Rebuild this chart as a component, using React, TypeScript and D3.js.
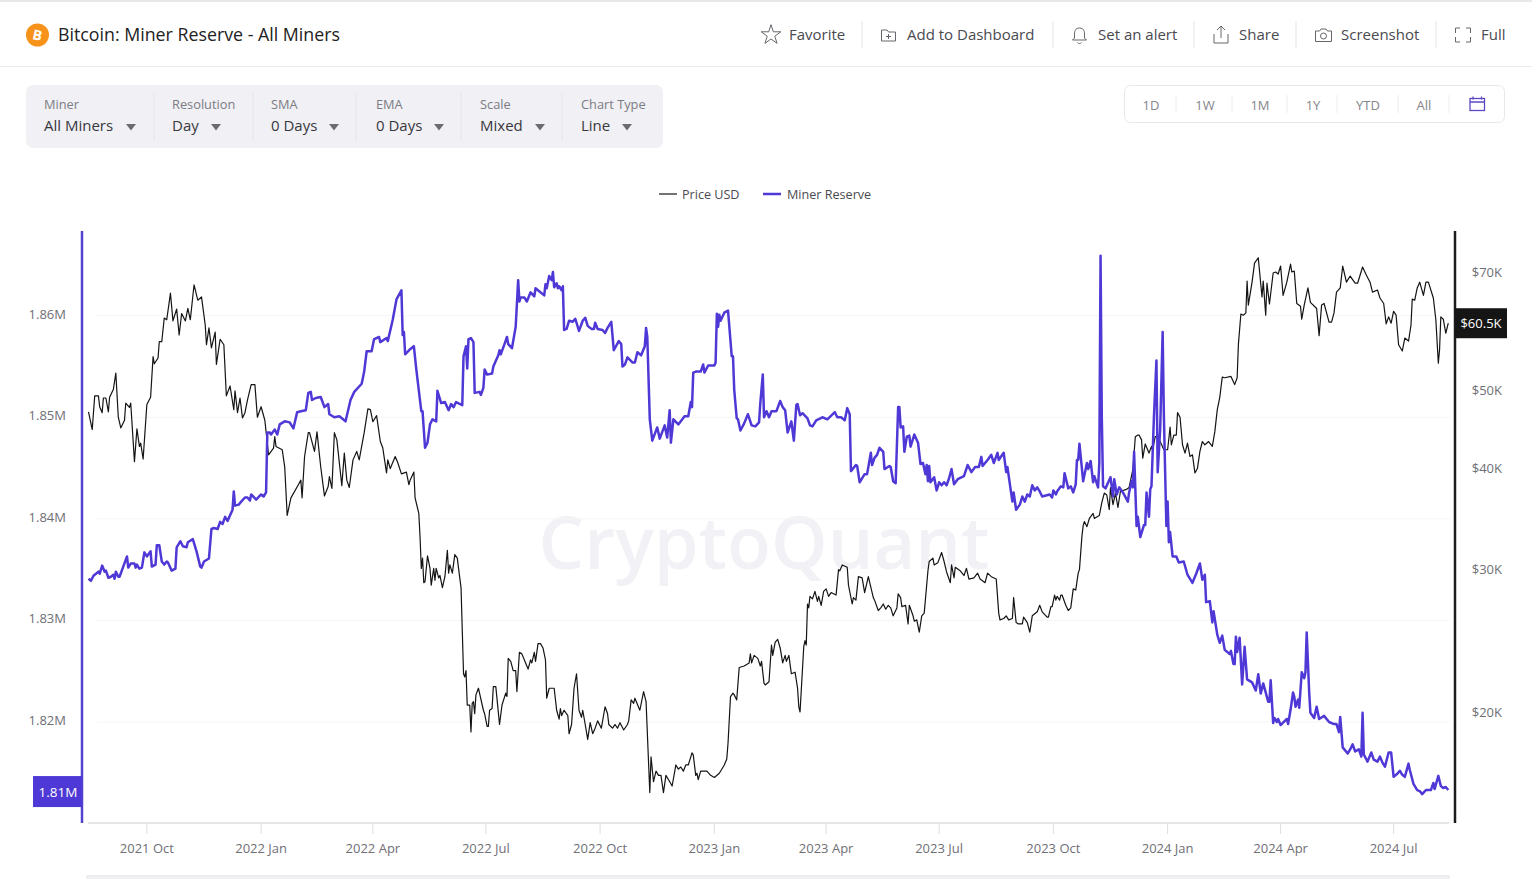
import * as d3 from 'd3';

// [days since 2021-08-15, price in $K]
const priceSeries: number[][] = [
  [0,47.0],[3,44.7],[5,49.2],[8,49.2],[9,47.7],[11,46.9],[12,48.9],[14,48.9],[16,47.0],[17,49.0],[20,50.1],[22,52.5],
  [24,46.3],[26,44.9],[29,45.9],[30,48.2],[33,47.6],[34,48.2],[37,40.8],[39,44.8],[41,42.6],[42,43.0],[44,41.1],[47,48.0],
  [50,49.0],[52,55.0],[53,53.9],[56,54.8],[57,57.4],[59,57.4],[61,61.4],[63,61.1],[66,65.9],[68,60.9],[71,63.0],[73,58.5],
  [75,62.2],[78,60.9],[80,63.1],[82,61.1],[85,67.5],[88,64.6],[91,65.2],[94,60.2],[95,56.9],[97,59.7],[99,56.4],[102,59.0],
  [103,53.8],[106,57.8],[109,56.9],[111,49.2],[114,50.6],[117,47.3],[118,49.9],[120,46.9],[122,48.9],[124,46.2],[126,46.9],
  [128,48.6],[131,50.8],[134,50.8],[136,46.3],[139,47.7],[142,45.9],[145,41.6],[149,42.4],[150,43.8],[151,42.6],[156,42.2],
  [158,40.2],[160,35.0],[163,36.8],[169,38.2],[171,38.7],[172,36.8],[174,41.4],[177,44.3],[178,44.3],[182,42.0],[184,44.4],
  [187,40.2],[190,37.0],[193,38.0],[194,39.1],[196,37.8],[198,44.3],[200,43.4],[204,38.1],[206,41.8],[208,38.7],[210,37.9],
  [213,41.0],[216,42.0],[218,41.0],[222,44.3],[225,47.4],[227,47.3],[229,45.7],[232,46.5],[235,43.2],[237,42.4],[240,39.5],
  [241,41.0],[243,40.0],[247,41.4],[249,40.7],[252,39.4],[256,39.6],[258,38.2],[259,38.7],[262,39.6],[263,36.8],[266,35.2],
  [267,32.9],[268,30.1],[269,31.0],[270,28.9],[271,29.0],[273,31.2],[275,30.1],[276,28.7],[278,30.1],[279,29.1],[280,30.1],
  [282,29.3],[283,29.5],[285,28.5],[287,29.4],[289,31.7],[290,29.7],[291,30.4],[293,29.7],[295,31.3],[297,31.0],[298,30.1],
  [300,28.5],[302,22.3],[303,22.1],[304,22.5],[305,20.4],[307,20.4],[308,18.9],[309,20.5],[310,20.6],[311,19.9],[312,21.0],
  [314,21.4],[318,20.1],[319,19.9],[321,19.2],[322,19.2],[323,20.1],[325,20.2],[326,21.5],[328,21.5],[331,19.3],[333,20.4],
  [336,21.1],[337,20.9],[338,23.3],[340,23.1],[342,22.5],[344,22.5],[345,21.2],[347,23.7],[349,23.6],[352,23.0],[354,22.6],
  [356,23.2],[357,23.0],[359,23.7],[360,23.1],[362,24.3],[364,24.3],[366,24.0],[368,23.2],[369,20.8],[371,21.4],[375,21.4],
  [377,20.1],[379,19.6],[380,20.2],[381,19.8],[383,20.1],[386,19.8],[387,18.8],[389,19.3],[391,21.4],[393,22.3],[395,20.1],
  [397,19.7],[398,20.1],[400,19.3],[402,18.5],[404,19.4],[406,18.8],[408,19.1],[410,19.5],[413,19.1],[416,20.3],[418,19.9],
  [419,19.3],[422,19.1],[424,19.3],[426,19.1],[428,19.4],[431,19.0],[434,19.3],[435,19.5],[437,20.7],[439,20.5],[440,20.8],
  [444,20.1],[447,21.2],[449,20.6],[452,15.9],[453,17.6],[455,16.4],[457,16.9],[459,16.7],[461,16.7],[463,15.9],[465,16.7],
  [467,16.5],[470,16.2],[473,17.2],[475,17.0],[477,17.1],[479,16.9],[481,17.2],[483,17.2],[486,17.8],[487,17.7],[489,16.7],
  [490,16.8],[491,16.5],[493,16.9],[498,16.9],[501,16.7],[504,16.6],[508,16.8],[512,17.2],[514,17.5],[515,18.3],[517,20.9],
  [519,21.1],[520,21.0],[522,20.7],[524,22.7],[528,22.8],[532,23.0],[533,23.6],[534,23.0],[536,23.5],[539,23.3],[541,22.8],
  [542,23.1],[544,21.7],[545,21.6],[548,21.8],[550,24.2],[551,23.5],[553,24.4],[555,24.6],[557,24.0],[559,23.0],[561,23.5],
  [562,23.1],[564,23.5],[566,22.3],[569,22.4],[571,21.4],[572,20.3],[573,20.0],[576,24.1],[577,24.5],[578,24.2],[579,27.2],
  [580,26.9],[581,27.8],[583,27.6],[585,28.2],[587,27.4],[588,27.8],[590,27.1],[592,28.2],[594,28.4],[596,27.8],[598,28.1],
  [602,27.9],[604,30.0],[605,29.9],[607,30.4],[611,30.2],[612,28.7],[615,27.2],[616,27.7],[618,27.5],[620,29.4],[623,29.3],
  [625,28.1],[628,29.4],[632,27.7],[633,27.5],[636,26.7],[638,26.9],[640,27.2],[642,26.8],[644,27.1],[646,26.9],[648,26.3],
  [651,26.9],[652,28.0],[654,27.7],[655,27.0],[658,27.1],[660,25.7],[661,27.1],[664,26.3],[665,25.9],[667,26.0],[669,25.1],
  [671,26.3],[673,26.5],[676,29.9],[677,30.7],[680,31.0],[681,30.4],[684,30.6],[687,31.5],[689,30.7],[691,29.8],[694,28.9],
  [695,30.4],[697,29.3],[698,30.2],[702,29.9],[705,29.5],[707,30.1],[709,29.2],[713,29.3],[716,29.7],[718,29.2],[722,28.9],
  [724,29.7],[727,29.4],[731,29.2],[733,26.5],[734,26.0],[737,26.1],[739,26.3],[741,26.0],[744,26.1],[745,27.7],[747,25.8],
  [749,25.7],[752,25.7],[753,26.2],[756,25.8],[758,25.1],[760,26.3],[764,26.6],[766,27.1],[768,26.6],[772,26.2],[773,26.2],
  [775,27.0],[776,27.0],[778,27.9],[779,27.5],[780,27.8],[782,27.5],[783,27.9],[784,27.9],[787,27.1],[789,26.7],[791,26.9],
  [793,28.4],[795,28.3],[797,29.7],[798,30.0],[800,33.0],[801,34.0],[802,34.4],[804,33.9],[806,34.7],[809,35.2],[810,34.7],
  [814,35.0],[816,36.3],[818,37.3],[820,37.1],[822,35.6],[823,37.9],[825,36.1],[827,37.3],[829,35.8],[831,37.5],[836,37.7],
  [838,37.9],[841,39.9],[843,43.8],[845,44.0],[846,44.0],[848,43.4],[849,41.2],[851,42.9],[854,41.8],[856,42.6],[857,42.2],
  [859,43.8],[861,43.8],[863,43.2],[866,42.2],[869,42.2],[871,45.0],[872,42.8],[874,44.0],[876,44.0],[877,46.9],[879,46.3],
  [881,42.8],[883,41.8],[885,43.0],[887,41.4],[889,41.6],[891,39.5],[893,40.0],[895,42.0],[897,43.2],[899,42.8],[902,43.2],
  [905,42.6],[907,44.4],[909,47.3],[911,49.0],[913,51.9],[915,51.8],[920,52.0],[923,50.8],[925,51.8],[926,57.0],[928,62.1],
  [930,61.9],[932,62.3],[933,68.2],[934,63.7],[937,68.0],[939,71.8],[942,72.9],[945,65.2],[946,68.2],[948,61.9],[949,67.8],
  [951,63.9],[954,69.8],[956,70.0],[958,69.6],[960,71.2],[962,65.5],[965,68.0],[968,71.6],[969,70.0],[971,70.2],[973,64.0],
  [976,63.5],[977,61.2],[979,63.7],[982,66.9],[984,64.2],[989,63.1],[991,58.4],[993,63.7],[995,64.0],[999,60.7],[1001,60.7],
  [1003,62.3],[1005,66.1],[1008,66.9],[1010,71.2],[1013,68.0],[1016,69.2],[1020,67.8],[1022,67.8],[1026,71.0],[1029,69.4],
  [1032,68.0],[1034,66.1],[1038,66.5],[1040,65.0],[1043,64.0],[1045,60.4],[1047,61.6],[1049,60.5],[1051,62.6],[1053,61.9],
  [1055,56.9],[1058,55.9],[1060,58.0],[1063,57.5],[1065,60.2],[1066,64.8],[1068,64.6],[1070,66.9],[1072,68.0],[1075,65.5],
  [1077,68.0],[1079,68.0],[1083,65.0],[1085,61.1],[1087,54.0],[1088,56.1],[1089,61.6],[1091,61.2],[1093,58.8],[1095,60.5],
];

// [days since 2021-08-15, miner reserve in thousands of BTC]
const reserveSeries: number[][] = [
  [0,1834.1],[2,1833.9],[4,1834.4],[8,1834.8],[9,1834.6],[11,1835.4],[13,1834.8],[14,1834.9],[16,1834.2],[18,1834.3],[20,1834.5],
  [21,1834.1],[22,1834.8],[24,1834.3],[25,1834.3],[28,1835.3],[31,1836.3],[32,1835.2],[34,1835.6],[37,1835.6],[38,1835.2],
  [39,1835.5],[41,1835.1],[43,1835.2],[45,1836.7],[47,1836.3],[50,1836.8],[51,1835.3],[54,1835.5],[55,1837.4],[57,1837.4],
  [59,1835.8],[61,1835.5],[63,1835.8],[64,1835.7],[67,1834.9],[70,1835.1],[71,1837.2],[74,1837.8],[76,1837.3],[79,1837.2],
  [80,1837.7],[84,1838.0],[87,1836.8],[90,1835.3],[91,1835.2],[93,1835.8],[97,1836.1],[99,1839.0],[101,1839.1],[104,1839.0],
  [106,1839.7],[108,1839.5],[110,1840.2],[112,1839.8],[116,1840.9],[117,1842.7],[118,1841.3],[121,1841.4],[123,1841.7],
  [126,1842.1],[128,1842.1],[130,1841.8],[131,1842.4],[135,1841.9],[139,1842.4],[141,1842.2],[143,1842.6],[144,1848.5],
  [146,1848.5],[147,1848.3],[150,1848.8],[152,1848.3],[154,1849.3],[158,1849.6],[162,1849.5],[165,1848.9],[168,1850.5],
  [171,1850.6],[175,1850.7],[177,1852.4],[179,1852.5],[180,1851.7],[183,1851.9],[187,1852.0],[190,1851.0],[193,1851.3],
  [194,1850.3],[198,1850.0],[202,1850.1],[207,1849.6],[211,1851.7],[214,1852.5],[220,1853.3],[222,1854.5],[224,1856.5],
  [228,1856.5],[230,1857.7],[234,1857.9],[235,1857.4],[240,1857.8],[241,1857.5],[245,1859.6],[248,1861.6],[252,1862.5],
  [253,1858.1],[254,1858.4],[255,1856.2],[259,1856.7],[262,1857.0],[264,1854.7],[268,1850.6],[269,1850.6],[271,1847.0],
  [273,1847.5],[275,1849.3],[277,1849.8],[280,1849.6],[281,1852.6],[284,1851.4],[287,1851.5],[290,1850.7],[292,1851.3],
  [294,1851.0],[296,1851.5],[301,1851.2],[302,1856.0],[304,1857.0],[305,1854.8],[306,1857.7],[308,1857.8],[310,1857.4],
  [311,1852.4],[315,1852.5],[316,1852.2],[318,1852.9],[319,1854.7],[321,1854.2],[325,1854.3],[326,1855.0],[330,1856.1],
  [331,1856.6],[332,1856.2],[335,1857.2],[337,1857.9],[338,1857.2],[341,1856.8],[344,1858.9],[346,1863.5],[347,1861.4],
  [348,1861.8],[351,1861.8],[353,1861.4],[356,1862.3],[359,1861.9],[360,1862.7],[367,1862.0],[368,1863.1],[369,1862.7],
  [371,1863.9],[373,1863.5],[374,1864.3],[375,1862.8],[377,1863.2],[378,1862.7],[379,1862.9],[381,1862.5],[382,1862.9],
  [383,1858.6],[385,1858.7],[387,1859.5],[390,1859.4],[392,1859.7],[395,1858.5],[398,1859.5],[400,1859.8],[402,1859.0],
  [405,1858.7],[407,1858.7],[408,1859.3],[410,1858.7],[414,1858.6],[416,1858.3],[418,1858.8],[421,1859.4],[423,1856.6],
  [427,1857.5],[429,1857.2],[430,1855.0],[432,1855.2],[434,1855.9],[438,1855.4],[440,1855.4],[442,1856.4],[445,1856.1],
  [448,1857.0],[449,1858.8],[450,1857.9],[452,1849.8],[454,1847.7],[458,1849.0],[460,1847.9],[464,1849.2],[466,1848.0],
  [468,1850.7],[469,1847.5],[471,1849.8],[475,1849.3],[480,1850.1],[483,1850.1],[485,1851.5],[486,1851.0],[487,1854.4],
  [489,1854.5],[491,1854.5],[493,1854.5],[495,1855.2],[496,1854.4],[499,1855.1],[504,1855.1],[505,1855.4],[506,1860.2],
  [507,1858.9],[508,1860.1],[509,1859.5],[512,1860.3],[515,1860.5],[518,1856.0],[519,1856.0],[520,1852.7],[522,1849.9],
  [523,1849.8],[525,1848.7],[528,1849.4],[531,1850.3],[534,1849.2],[537,1849.1],[540,1849.5],[541,1851.4],[543,1854.2],
  [544,1850.0],[546,1850.6],[548,1850.0],[550,1850.6],[554,1850.6],[557,1851.6],[559,1851.0],[561,1850.7],[563,1848.5],
  [566,1849.6],[568,1847.7],[570,1851.2],[571,1851.3],[573,1850.2],[575,1850.4],[579,1849.9],[581,1849.2],[583,1849.1],
  [586,1849.7],[591,1850.0],[595,1849.8],[601,1850.5],[603,1850.0],[606,1850.0],[609,1849.7],[611,1850.9],[613,1850.3],
  [614,1844.7],[618,1845.3],[619,1845.2],[621,1843.6],[625,1844.4],[627,1844.4],[630,1846.5],[631,1845.3],[633,1846.0],
  [635,1846.3],[637,1847.0],[640,1846.6],[641,1844.9],[645,1845.2],[646,1845.1],[648,1843.7],[650,1843.5],[652,1851.0],
  [653,1851.0],[654,1849.0],[656,1849.1],[657,1846.6],[659,1848.1],[661,1848.2],[662,1847.1],[665,1848.3],[668,1847.5],
  [670,1845.4],[672,1845.5],[674,1844.4],[675,1845.3],[676,1843.7],[677,1845.2],[678,1843.6],[681,1844.1],[683,1842.8],
  [685,1843.6],[687,1843.3],[689,1843.6],[691,1843.3],[693,1844.0],[695,1844.9],[697,1843.4],[700,1843.9],[705,1844.2],
  [708,1845.3],[711,1844.6],[714,1845.1],[717,1845.1],[719,1846.1],[720,1845.2],[724,1845.8],[727,1846.3],[729,1845.5],
  [732,1846.5],[733,1845.8],[737,1846.5],[739,1844.6],[740,1845.1],[742,1843.4],[744,1841.7],[745,1842.6],[747,1840.9],
  [750,1841.4],[752,1842.2],[754,1841.7],[756,1842.4],[758,1842.2],[760,1843.3],[762,1842.8],[764,1843.1],[766,1842.7],
  [768,1842.2],[774,1842.4],[776,1842.1],[777,1842.8],[779,1842.4],[780,1842.7],[783,1843.2],[785,1843.1],[786,1844.5],
  [789,1843.0],[791,1843.2],[793,1842.6],[795,1843.4],[796,1845.8],[797,1845.8],[798,1847.4],[801,1843.7],[804,1845.5],
  [805,1844.9],[807,1845.7],[809,1843.6],[810,1844.2],[813,1843.1],[814,1845.5],[815,1865.9],[816,1850.0],[817,1843.2],
  [819,1843.0],[823,1844.1],[825,1842.2],[826,1843.9],[828,1842.4],[830,1843.1],[833,1842.6],[837,1841.7],[838,1842.6],
  [840,1843.7],[841,1843.1],[842,1846.6],[844,1839.3],[845,1840.2],[847,1838.2],[850,1839.4],[851,1839.4],[852,1842.6],
  [854,1840.2],[855,1842.9],[856,1843.2],[858,1850.1],[860,1855.6],[861,1844.6],[863,1848.8],[865,1858.4],[866,1850.1],
  [868,1839.3],[869,1841.7],[870,1837.7],[871,1838.7],[873,1836.3],[876,1836.3],[878,1835.7],[882,1835.8],[885,1834.5],
  [889,1833.7],[892,1834.6],[895,1835.6],[897,1834.0],[899,1834.5],[900,1831.8],[903,1831.9],[905,1829.8],[906,1830.9],
  [909,1828.6],[911,1827.8],[913,1828.5],[915,1827.1],[919,1826.7],[920,1827.0],[922,1825.7],[923,1825.7],[924,1828.4],
  [925,1826.9],[927,1828.3],[929,1823.7],[931,1827.4],[933,1824.2],[937,1823.9],[940,1823.1],[942,1824.7],[944,1822.8],
  [946,1823.8],[950,1822.0],[951,1822.0],[952,1824.1],[954,1819.9],[955,1820.4],[957,1820.0],[958,1820.3],[960,1819.7],
  [965,1820.3],[966,1819.8],[968,1821.2],[970,1822.9],[971,1822.5],[972,1821.5],[974,1822.2],[975,1821.4],[977,1824.9],
  [979,1824.3],[980,1824.9],[981,1828.8],[983,1822.9],[984,1820.9],[987,1820.4],[989,1821.5],[991,1820.3],[995,1820.6],
  [999,1820.0],[1003,1819.8],[1005,1819.8],[1007,1819.0],[1008,1820.5],[1010,1817.5],[1014,1816.9],[1016,1817.3],[1018,1817.8],
  [1020,1817.1],[1023,1817.3],[1025,1816.6],[1026,1820.9],[1027,1816.8],[1030,1816.1],[1033,1817.0],[1035,1816.3],[1038,1816.1],
  [1040,1816.6],[1042,1816.0],[1044,1815.6],[1047,1817.0],[1049,1817.0],[1051,1814.6],[1054,1814.9],[1056,1815.2],[1058,1814.8],
  [1060,1814.6],[1063,1815.9],[1064,1815.3],[1067,1813.9],[1070,1813.3],[1072,1813.2],[1074,1812.9],[1077,1813.3],[1081,1813.3],
  [1083,1814.0],[1084,1813.4],[1087,1814.7],[1089,1813.7],[1091,1813.5],[1093,1813.6],[1095,1813.3],
];

const reserveTicks = [1860, 1850, 1840, 1830, 1820];
const priceTicks = [70, 50, 40, 30, 20];
const lastPriceLabel = '$60.5K';
const lastReserveLabel = '1.81M';

const filters = [
  { label: 'Miner', value: 'All Miners', x: 44, arrow: 131 },
  { label: 'Resolution', value: 'Day', x: 172, arrow: 216 },
  { label: 'SMA', value: '0 Days', x: 271, arrow: 334 },
  { label: 'EMA', value: '0 Days', x: 376, arrow: 439 },
  { label: 'Scale', value: 'Mixed', x: 480, arrow: 540 },
  { label: 'Chart Type', value: 'Line', x: 581, arrow: 627 },
];
const filterSeparators = [154, 253, 356, 461, 562];

const actions = [
  { label: 'Favorite', x: 789 },
  { label: 'Add to Dashboard', x: 907 },
  { label: 'Set an alert', x: 1098 },
  { label: 'Share', x: 1239 },
  { label: 'Screenshot', x: 1341 },
  { label: 'Full', x: 1481 },
];
const actionSeparators = [862, 1053, 1194, 1296, 1436];

const ranges = [
  { label: '1D', x: 1151 },
  { label: '1W', x: 1205 },
  { label: '1M', x: 1260 },
  { label: '1Y', x: 1313 },
  { label: 'YTD', x: 1368 },
  { label: 'All', x: 1424 },
];
const rangeSeparators = [1176, 1232, 1287, 1337, 1398, 1449];

const FONT = '"Open Sans", "Noto Sans", sans-serif';
const PURPLE = '#4f39d6';
const GREY_TEXT = '#6f6f76';

const width = 1532;
const height = 879;
const plot = { left: 82, right: 1455, top: 231, bottom: 823 };

const startDate = new Date(2021, 7, 15);
const dayToDate = (d: number) => d3.timeDay.offset(startDate, d);

export default function App() {
  const xScale = d3.scaleTime().domain([startDate, dayToDate(1096)]).range([88.5, 1449.5]);
  const yReserve = d3.scaleLinear().domain([1820, 1860]).range([722, 315.7]);
  const yPrice = d3.scaleLog().domain([20, 70]).range([712, 272]);

  const priceLine = d3.line<number[]>()
    .x(d => xScale(dayToDate(d[0])))
    .y(d => yPrice(d[1]));
  const reserveLine = d3.line<number[]>()
    .x(d => xScale(dayToDate(d[0])))
    .y(d => yReserve(d[1]));

  const xTicks = d3.timeMonth.every(3)!.range(new Date(2021, 9, 1), new Date(2024, 7, 1));
  const formatTick = d3.timeFormat('%Y %b');
  const starPath = d3.symbol(d3.symbolStar, 120)() || '';

  const lastPrice = priceSeries[priceSeries.length - 1];
  const lastReserve = reserveSeries[reserveSeries.length - 1];

  return (
    <svg
      width={width}
      height={height}
      fontFamily={FONT}
      style={{ position: 'absolute', left: 0, top: 0, display: 'block', background: '#fff' }}
    >
      {/* Header */}
      <line x1={0} x2={width} y1={1} y2={1} stroke="#e8e8e8" strokeWidth={2} />
      <line x1={0} x2={width} y1={66.5} y2={66.5} stroke="#e9e9e9" />
      <circle cx={37.5} cy={35} r={11.5} fill="#f7931a" />
      <text x={37.5} y={40} textAnchor="middle" fontSize={14} fontWeight="bold" fill="#fff" transform="rotate(12, 37.5, 35)">B</text>
      <text x={58} y={40.5} fontSize={17.8} fill="#222">Bitcoin: Miner Reserve - All Miners</text>

      {actions.map(a => (
        <text key={a.label} x={a.x} y={39.5} fontSize={15} fill="#4a4a50">{a.label}</text>
      ))}
      {actionSeparators.map(x => (
        <line key={x} x1={x} x2={x} y1={21} y2={48} stroke="#e4e4e4" />
      ))}
      <g fill="none" stroke="#66666c" strokeWidth={1}>
        <path d={starPath} transform="translate(771,35)" />
        <path d="M881.5,30v11h14v-9h-7l-1.500,-2zM888.500,34v5M886,36.500h5" />
        <path d="M1079.500,28c-4,0 -5,3 -5,6v4l-2,2h14l-2,-2v-4c0,-3 -1,-6 -5,-6zM1077.500,42.500c1,1.500 3,1.500 4,0" />
        <path d="M1214,34v9h14v-9M1221,38v-12M1217,30l4,-4l4,4" />
        <path d="M1315.500,31h4l1.500,-2h5l1.500,2h4v10.500h-16z" />
        <circle cx={1323.500} cy={36} r={3} />
        <path d="M1455.500,33v-5h4.500M1466,28h4.500v5M1455.500,37v5h4.500M1466,42h4.500v-5" />
      </g>

      {/* Filter bar */}
      <rect x={26} y={85} width={637} height={63} rx={7} fill="#f0f0f5" />
      {filterSeparators.map(x => (
        <line key={x} x1={x} x2={x} y1={93} y2={140} stroke="#e4e4ea" />
      ))}
      {filters.map(f => (
        <g key={f.label}>
          <text x={f.x} y={109} fontSize={12.8} fill="#7c7c83">{f.label}</text>
          <text x={f.x} y={131} fontSize={15} fill="#38383d">{f.value}</text>
          <path d={`M${f.arrow - 5},124h10l-5,6.500z`} fill="#6b6b72" />
        </g>
      ))}

      {/* Range buttons */}
      <rect x={1124.500} y={85.500} width={380} height={37} rx={6} fill="#fff" stroke="#e8e8ec" />
      {rangeSeparators.map(x => (
        <line key={x} x1={x} x2={x} y1={95} y2={113} stroke="#ececf0" />
      ))}
      {ranges.map(r => (
        <text key={r.label} x={r.x} y={110} textAnchor="middle" fontSize={13} fill="#85858c">{r.label}</text>
      ))}
      <g fill="none" stroke="#5b49c4" strokeWidth={1.300}>
        <rect x={1470} y={98.500} width={14.500} height={12} />
        <path d="M1470,102h14.500M1473,96.500v3M1481.500,96.500v3" />
      </g>

      {/* Legend */}
      <line x1={659} x2={677} y1={194} y2={194} stroke="#444" strokeWidth={1.500} />
      <text x={682} y={199} fontSize={12.600} fill="#4a4a50">Price USD</text>
      <line x1={763} x2={781} y1={194} y2={194} stroke={PURPLE} strokeWidth={2.500} />
      <text x={787} y={199} fontSize={12.600} fill="#4a4a50">Miner Reserve</text>

      {/* Watermark */}
      <text x={764} y={569} textAnchor="middle" fontSize={72} fontWeight={600} fill="#f2f2f6">CryptoQuant</text>

      {/* Grid */}
      {reserveTicks.map(t => (
        <line key={t} x1={97} x2={1450} y1={yReserve(t)} y2={yReserve(t)} stroke="#f5f5f5" />
      ))}

      {/* X axis */}
      <line x1={88} x2={1449} y1={plot.bottom} y2={plot.bottom} stroke="#dedee2" strokeWidth={1.500} />
      {xTicks.map(t => (
        <g key={t.getTime()}>
          <line x1={xScale(t)} x2={xScale(t)} y1={plot.bottom} y2={plot.bottom + 11} stroke="#dedee2" />
          <text x={xScale(t)} y={853} textAnchor="middle" fontSize={13} fill={GREY_TEXT}>{formatTick(t)}</text>
        </g>
      ))}
      <rect x={87} y={875.500} width={1362} height={4} fill="#f0f0f2" stroke="#e8e8ea" />

      {/* Series */}
      <path d={priceLine(priceSeries) || ''} fill="none" stroke="#141414" strokeWidth={1.200} strokeLinejoin="round" />
      <path d={reserveLine(reserveSeries) || ''} fill="none" stroke={PURPLE} strokeWidth={2.500} strokeLinejoin="round" />

      {/* Left axis */}
      <line x1={plot.left} x2={plot.left} y1={plot.top} y2={plot.bottom} stroke="#5543cf" strokeWidth={2.500} />
      {reserveTicks.map(t => (
        <text key={t} x={66} y={yReserve(t) + 3} textAnchor="end" fontSize={13} fill={GREY_TEXT}>
          {`${(t / 1000).toFixed(2)}M`}
        </text>
      ))}
      <rect x={33} y={yReserve(lastReserve[1]) - 14} width={49} height={31} fill={PURPLE} />
      <text x={58} y={yReserve(lastReserve[1]) + 6.500} textAnchor="middle" fontSize={13.500} fill="#fff">{lastReserveLabel}</text>

      {/* Right axis */}
      <line x1={plot.right} x2={plot.right} y1={plot.top} y2={plot.bottom} stroke="#1c1c1c" strokeWidth={2.500} />
      {priceTicks.map(t => (
        <text key={t} x={1502} y={yPrice(t) + 4.500} textAnchor="end" fontSize={13} fill={GREY_TEXT}>{`$${t}K`}</text>
      ))}
      <rect x={1455} y={yPrice(lastPrice[1]) - 15} width={52} height={30} fill="#151515" />
      <text x={1481} y={yPrice(lastPrice[1]) + 4.500} textAnchor="middle" fontSize={13} fill="#fff">{lastPriceLabel}</text>
    </svg>
  );
}
